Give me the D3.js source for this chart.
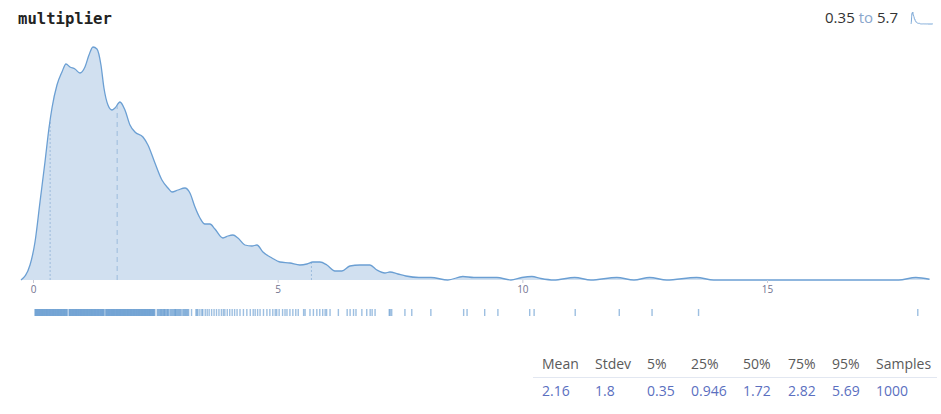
<!DOCTYPE html>
<html>
<head>
<meta charset="utf-8">
<script src="https://cdn.jsdelivr.net/npm/d3@7"></script>
<style>
  body { margin: 0; background: #fff; }
  svg { display: block; }
</style>
</head>
<body>
<div id="vis"></div>
<script>
// density curve: [value, density]
const densityX = [-0.245, -0.061, 0.041, 0.143, 0.245, 0.327, 0.388, 0.49, 0.592, 0.674, 0.756, 0.858, 0.96, 1.062, 1.144, 1.226, 1.307, 1.389, 1.45, 1.532, 1.614, 1.675, 1.777, 1.879, 1.982, 2.084, 2.247, 2.349, 2.492, 2.635, 2.758, 2.84, 2.962, 3.105, 3.207, 3.31, 3.412, 3.514, 3.616, 3.718, 3.882, 3.984, 4.086, 4.188, 4.331, 4.474, 4.576, 4.699, 4.883, 5.046, 5.25, 5.454, 5.598, 5.72, 5.863, 6.006, 6.169, 6.312, 6.476, 6.68, 6.885, 7.028, 7.191, 7.293, 7.457, 7.62, 7.886, 8.131, 8.478, 8.784, 9.009, 9.254, 9.479, 9.765, 9.99, 10.194, 10.378, 10.643, 11.07, 11.4, 11.93, 12.28, 12.6, 12.95, 13.56, 13.91, 17.69, 18.04, 18.32];
const densityY = [0, 0.03, 0.076, 0.156, 0.236, 0.304, 0.344, 0.39, 0.416, 0.432, 0.426, 0.422, 0.414, 0.426, 0.45, 0.466, 0.462, 0.43, 0.384, 0.35, 0.34, 0.344, 0.356, 0.34, 0.31, 0.296, 0.286, 0.27, 0.234, 0.2, 0.184, 0.176, 0.18, 0.184, 0.174, 0.146, 0.124, 0.112, 0.112, 0.102, 0.084, 0.088, 0.09, 0.084, 0.07, 0.068, 0.07, 0.056, 0.044, 0.036, 0.034, 0.03, 0.032, 0.036, 0.036, 0.03, 0.018, 0.018, 0.028, 0.03, 0.03, 0.02, 0.014, 0.016, 0.012, 0.008, 0.005, 0.005, 0, 0.007, 0.005, 0.005, 0.005, 0, 0.005, 0.007, 0.003, 0, 0.005, 0, 0.005, 0, 0.005, 0, 0.005, 0, 0, 0.005, 0.0015];

// sample positions for the rug (estimated; the dense part is packed solid)
const samples = [0.04, 0.055, 0.07, 0.085, 0.1, 0.115, 0.13, 0.145, 0.16, 0.175, 0.19, 0.205, 0.22, 0.235, 0.25, 0.265, 0.28, 0.295, 0.31, 0.325, 0.34, 0.355, 0.37, 0.385, 0.4, 0.415, 0.43, 0.445, 0.46, 0.475, 0.49, 0.505, 0.52, 0.535, 0.55, 0.565, 0.58, 0.595, 0.61, 0.625, 0.64, 0.655, 0.67, 0.685, 0.7, 0.735, 0.75, 0.765, 0.78, 0.795, 0.81, 0.825, 0.84, 0.855, 0.87, 0.885, 0.9, 0.915, 0.93, 0.945, 0.96, 0.975, 0.99, 1.005, 1.02, 1.035, 1.05, 1.065, 1.08, 1.095, 1.11, 1.125, 1.14, 1.155, 1.17, 1.185, 1.2, 1.215, 1.23, 1.245, 1.26, 1.275, 1.29, 1.305, 1.32, 1.335, 1.35, 1.365, 1.38, 1.395, 1.41, 1.425, 1.44, 1.455, 1.485, 1.5, 1.515, 1.53, 1.545, 1.56, 1.575, 1.59, 1.605, 1.62, 1.635, 1.65, 1.665, 1.68, 1.695, 1.71, 1.725, 1.74, 1.755, 1.77, 1.785, 1.8, 1.815, 1.83, 1.845, 1.86, 1.875, 1.89, 1.905, 1.92, 1.935, 1.95, 1.965, 1.98, 1.995, 2.01, 2.025, 2.04, 2.055, 2.07, 2.085, 2.1, 2.115, 2.13, 2.145, 2.16, 2.175, 2.19, 2.205, 2.22, 2.235, 2.25, 2.265, 2.28, 2.295, 2.31, 2.325, 2.34, 2.355, 2.37, 2.385, 2.4, 2.415, 2.43, 2.445, 2.46, 2.475, 2.49,
  2.54, 2.56, 2.58, 2.6, 2.615, 2.63, 2.65, 2.67, 2.685, 2.7, 2.72, 2.74, 2.755, 2.77, 2.8, 2.82, 2.84, 2.86, 2.88, 2.9, 2.91, 2.93, 2.95, 2.97, 2.99, 3.01, 3.03, 3.06, 3.08, 3.1, 3.12, 3.14, 3.16, 3.18, 3.24, 3.33, 3.35, 3.37, 3.41, 3.45,
  3.47, 3.52, 3.56, 3.6, 3.65, 3.7, 3.75, 3.8, 3.85, 3.89, 3.92, 3.97, 4.02, 4.07, 4.12, 4.17, 4.23, 4.3, 4.37, 4.44, 4.5, 4.54, 4.59, 4.64, 4.71, 4.78, 4.84, 4.9, 4.95, 4.98, 5.03, 5.1, 5.15, 5.19, 5.25, 5.31, 5.37, 5.42, 5.53, 5.56, 5.66, 5.73, 5.8, 5.86, 5.92, 5.97, 6.0, 6.07, 6.24,
  6.42, 6.48, 6.55, 6.6, 6.72, 6.82, 6.89, 6.93, 6.99, 7.28, 7.3, 7.33, 7.6, 7.74, 8.13, 8.8, 8.87, 9.23, 9.5, 10.15, 10.24, 11.08, 11.98, 12.65, 13.6, 18.08];

const xTicks = [0, 5, 10, 15];
const percentileMarks = [{p: '5%', v: 0.35, dash: '2,2'}, {p: '50%', v: 1.72, dash: '5,4'}, {p: '95%', v: 5.69, dash: '2,2'}];
const statLabels = ['Mean', 'Stdev', '5%', '25%', '50%', '75%', '95%', 'Samples'];
const statValues = ['2.16', '1.8', '0.35', '0.946', '1.72', '2.82', '5.69', '1000'];
const rangeText = ['0.35', 'to', '5.7'];

const W = 941, H = 414;
const svg = d3.select('#vis').append('svg')
  .attr('width', W).attr('height', H);

const pts = densityX.map((v, i) => [v, densityY[i]]);

const x = d3.scaleLinear().domain([-0.245, 18.35]).range([21, 931]);
const y = d3.scaleLinear().domain([0, d3.max(densityY)]).range([280, 47]);

// title
svg.append('text')
  .attr('x', 18).attr('y', 24)
  .style('font-family', '"DejaVu Sans Mono", monospace')
  .style('font-weight', 'bold')
  .style('font-size', '15.6px')
  .style('fill', '#222')
  .text('multiplier');

// area + line
svg.append('path')
  .datum(pts)
  .attr('fill', '#d1e0f0')
  .attr('d', d3.area().x(d => x(d[0])).y0(y(0)).y1(d => y(d[1])).curve(d3.curveMonotoneX));

// percentile lines, up to the curve
function densAt(v) {
  const i = d3.bisector(d => d[0]).left(pts, v);
  const a = pts[i - 1], b = pts[i];
  const t = (v - a[0]) / (b[0] - a[0]);
  return a[1] + t * (b[1] - a[1]);
}
svg.selectAll('.pct')
  .data(percentileMarks)
  .enter().append('line')
  .attr('x1', d => x(d.v)).attr('x2', d => x(d.v))
  .attr('y1', y(0)).attr('y2', d => y(densAt(d.v)))
  .attr('stroke', '#9dbbdc')
  .attr('stroke-width', 1)
  .attr('stroke-dasharray', d => d.dash);

svg.append('path')
  .datum(pts)
  .attr('fill', 'none')
  .attr('stroke', '#6b9fd3')
  .attr('stroke-width', 1.3)
  .attr('d', d3.line().x(d => x(d[0])).y(d => y(d[1])).curve(d3.curveMonotoneX));

// x axis
const ax = svg.append('g')
  .attr('transform', 'translate(0,' + y(0) + ')')
  .call(d3.axisBottom(x).tickValues(xTicks).tickSize(3).tickPadding(3));
ax.select('.domain').remove();
ax.selectAll('line').attr('stroke', '#c8c8d4');
ax.selectAll('text')
  .style('font-family', '"Open Sans", sans-serif')
  .style('font-size', '10px')
  .style('fill', '#72728f');

// rug
svg.append('g').selectAll('line')
  .data(samples)
  .enter().append('line')
  .attr('x1', d => x(d)).attr('x2', d => x(d))
  .attr('y1', 309).attr('y2', 316)
  .attr('stroke', '#3b7fc4')
  .attr('stroke-width', 1.4)
  .attr('stroke-opacity', 0.5);

// range text + sparkline top right
const rt = svg.append('text')
  .attr('x', 898).attr('y', 23)
  .attr('text-anchor', 'end')
  .style('font-family', '"Open Sans", sans-serif')
  .style('font-size', '15px');
rt.append('tspan').style('fill', '#333').text(rangeText[0] + ' ');
rt.append('tspan').style('fill', '#8aa6cc').text(rangeText[1] + ' ');
rt.append('tspan').style('fill', '#333').text(rangeText[2]);

const sx = d3.scaleLinear().domain(x.domain()).range([911, 933]);
const sy = d3.scaleLinear().domain(y.domain()).range([24, 12]);
svg.append('path')
  .datum(pts)
  .attr('fill', 'none')
  .attr('stroke', '#7aa8d8')
  .attr('stroke-width', 1)
  .attr('d', d3.line().x(d => sx(d[0])).y(d => sy(d[1])).curve(d3.curveMonotoneX));

// stats table
const colX = [542, 595, 647, 691, 743, 788, 832, 876];
svg.append('line')
  .attr('x1', 533).attr('x2', 937)
  .attr('y1', 377.5).attr('y2', 377.5)
  .attr('stroke', '#e2e7f1');
svg.selectAll('.hd')
  .data(statLabels)
  .enter().append('text')
  .attr('x', (d, i) => colX[i]).attr('y', 369)
  .style('font-family', '"Open Sans", sans-serif')
  .style('font-size', '14px')
  .style('fill', '#5a5a5a')
  .text(d => d);
svg.selectAll('.vl')
  .data(statValues)
  .enter().append('text')
  .attr('x', (d, i) => colX[i]).attr('y', 396)
  .style('font-family', '"Open Sans", sans-serif')
  .style('font-size', '14px')
  .style('fill', '#5b6fbf')
  .text(d => d);
</script>
</body>
</html>
